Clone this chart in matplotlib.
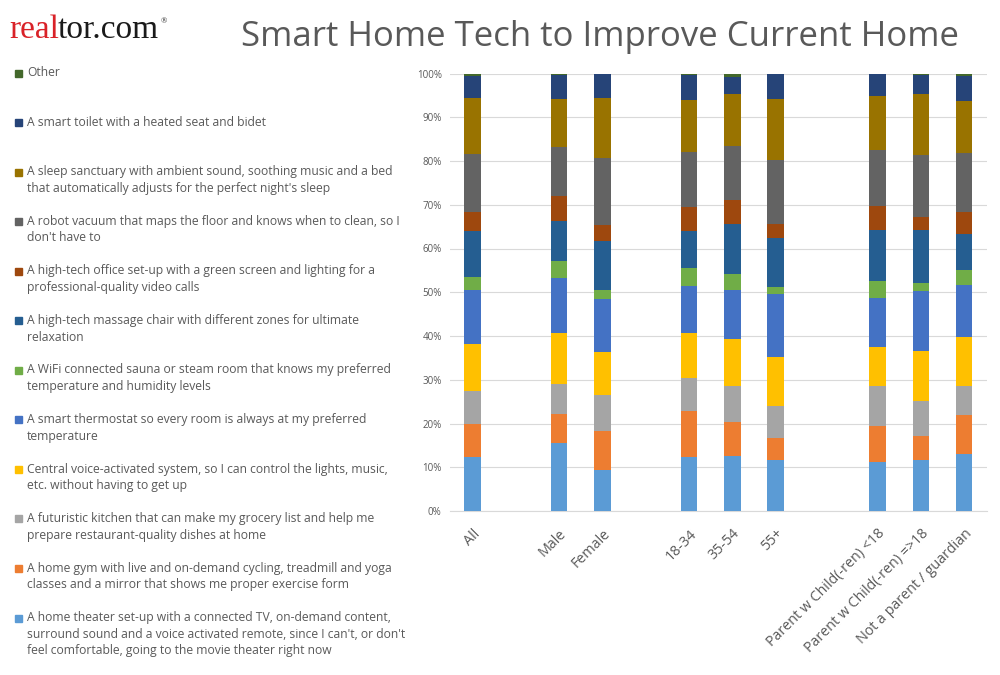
import numpy as np
import matplotlib
matplotlib.use("Agg")
import matplotlib.pyplot as plt
from matplotlib.patches import Rectangle

# Categories (x axis) and their slot positions (Excel leaves blank slots between groups)
categories = ["All", "Male", "Female", "18-34", "35-54", "55+",
              "Parent w Child(-ren) <18", "Parent w Child(-ren) =>18",
              "Not a parent / guardian"]
slots = [0, 2, 3, 5, 6, 7, 9.35, 10.35, 11.35]

# Share of respondents per option, bottom of the stack first (%)
home_theater = [12.3, 15.5, 9.4, 12.3, 12.6, 11.7, 11.3, 11.7, 13.0]
home_gym = [7.6, 6.7, 8.8, 10.5, 7.7, 5.1, 8.2, 5.4, 9.0]
kitchen = [7.6, 6.8, 8.4, 7.6, 8.3, 7.3, 9.1, 8.0, 6.6]
voice_system = [10.7, 11.7, 9.7, 10.3, 10.7, 11.2, 9.0, 11.4, 11.2]
thermostat = [12.3, 12.5, 12.1, 10.8, 11.3, 14.4, 11.2, 13.8, 11.9]
sauna = [3.1, 3.9, 2.2, 4.1, 3.6, 1.6, 3.8, 1.9, 3.3]
massage_chair = [10.3, 9.2, 11.2, 8.3, 11.5, 11.2, 11.6, 12.1, 8.4]
office = [4.5, 5.8, 3.6, 5.5, 5.4, 3.0, 5.6, 2.9, 4.9]
robot_vacuum = [13.2, 11.1, 15.3, 12.7, 12.4, 14.8, 12.8, 14.1, 13.6]
sleep_sanctuary = [12.8, 10.9, 13.8, 11.8, 11.8, 13.8, 12.3, 14.0, 11.9]
smart_toilet = [5.1, 5.6, 5.3, 5.8, 3.9, 5.7, 4.9, 4.3, 5.7]
other = [0.5, 0.3, 0.2, 0.3, 0.8, 0.2, 0.2, 0.4, 0.5]

series_labels = [
    "A home theater set-up with a connected TV, on-demand content,\n"
    "surround sound and a voice activated remote, since I can't, or don't\n"
    "feel comfortable, going to the movie theater right now",
    "A home gym with live and on-demand cycling, treadmill and yoga\n"
    "classes and a mirror that shows me proper exercise form",
    "A futuristic kitchen that can make my grocery list and help me\n"
    "prepare restaurant-quality dishes at home",
    "Central voice-activated system, so I can control the lights, music,\n"
    "etc. without having to get up",
    "A smart thermostat so every room is always at my preferred\n"
    "temperature",
    "A WiFi connected sauna or steam room that knows my preferred\n"
    "temperature and humidity levels",
    "A high-tech massage chair with different zones for ultimate\n"
    "relaxation",
    "A high-tech office set-up with a green screen and lighting for a\n"
    "professional-quality video calls",
    "A robot vacuum that maps the floor and knows when to clean, so I\n"
    "don't have to",
    "A sleep sanctuary with ambient sound, soothing music and a bed\n"
    "that automatically adjusts for the perfect night's sleep",
    "A smart toilet with a heated seat and bidet",
    "Other",
]
series_colors = ["#5B9BD5", "#ED7D31", "#A5A5A5", "#FFC000", "#4472C4", "#70AD47",
                 "#255E91", "#9E480E", "#636363", "#997300", "#264478", "#43682B"]

series = [home_theater, home_gym, kitchen, voice_system, thermostat, sauna,
          massage_chair, office, robot_vacuum, sleep_sanctuary, smart_toilet, other]

TEXT = "#595959"
FONT = ["Open Sans", "DejaVu Sans"]
plt.rcParams["font.family"] = FONT

fig = plt.figure(figsize=(10, 6.75), dpi=100)
ax = fig.add_axes([0.45, 1 - 511 / 675, 0.537, (511 - 73.5) / 675])

# 100% stacked: normalise each column
data = np.array(series, dtype=float)
data = data / data.sum(axis=0) * 100
bottom = np.zeros(len(categories))
for values, color in zip(data, series_colors):
    ax.bar(slots, values, width=0.38, bottom=bottom, color=color, zorder=3)
    bottom += values

ax.set_xlim(-0.52, 11.88)
ax.set_ylim(0, 100)
ax.set_yticks(np.arange(0, 101, 10))
ax.set_yticklabels([f"{v}%" for v in range(0, 101, 10)], fontsize=7, color=TEXT)
ax.yaxis.grid(True, color="#D9D9D9", linewidth=0.8, zorder=0)
ax.set_xticks(slots)
ax.set_xticklabels(categories, rotation=45, ha="right", rotation_mode="anchor",
                   fontsize=10.3, color=TEXT)
ax.tick_params(axis="x", length=0, pad=11)
ax.tick_params(axis="y", length=0, pad=6)
for side in ["top", "right", "left"]:
    ax.spines[side].set_visible(False)
ax.spines["bottom"].set_color("#D9D9D9")

# Legend down the left side, top entry is the top of the stack
W, H = 1000, 675
y0, step, line_h = 73, 49.55, 16.6
for i, (label, color) in enumerate(zip(series_labels[::-1], series_colors[::-1])):
    y = y0 + i * step
    fig.patches.append(Rectangle((15 / W, 1 - (y + 3.5) / H), 7 / W, 7 / H,
                                 transform=fig.transFigure, color=color))
    fig.text(27 / W, 1 - (y - line_h / 2 + 1.5) / H, label, fontsize=8.7,
             color=TEXT, va="top", ha="left", linespacing=1.36)

# Title and logo
fig.text(600 / W, 1 - 37 / H, "Smart Home Tech to Improve Current Home",
         fontsize=25, color=TEXT, ha="center", va="center")
logo = fig.text(9 / W, 1 - 30 / H, "real", fontsize=24, color="#D92228",
                family="Liberation Serif", va="center", ha="left")
fig.canvas.draw()
bb = logo.get_window_extent()
logo2 = fig.text((bb.x1 - 1) / W, 1 - 30 / H, "tor.com", fontsize=24,
                 color="#1A1A1A", family="Liberation Serif", va="center", ha="left")
fig.canvas.draw()
bb2 = logo2.get_window_extent()
fig.text(bb2.x1 / W + 0.002, 1 - 21 / H, "®", fontsize=6, color="#1A1A1A",
         family="Liberation Serif", va="center", ha="left")

fig.savefig("out.png", dpi=100)
